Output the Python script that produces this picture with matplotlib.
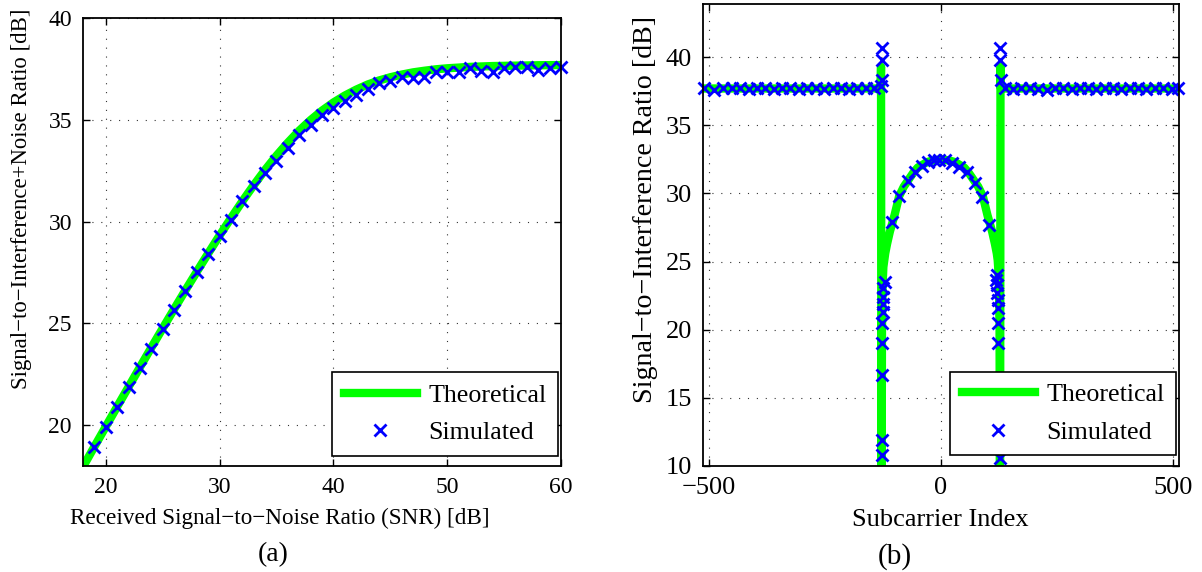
import matplotlib
matplotlib.use('Agg')
import matplotlib.pyplot as plt

plt.rcParams['font.family'] = ['Liberation Serif', 'DejaVu Serif']
plt.rcParams['font.size'] = 18

# (a) SINR vs received SNR
snr_theo = [18, 19, 20, 21, 22, 23, 24, 25, 26, 27, 28, 29, 30, 31, 32, 33, 34, 35, 36, 37, 38, 39,
            40, 41, 42, 43, 44, 45, 46, 47, 48, 49, 50, 52, 54, 56, 58, 60]
sinr_theo = [17.96, 18.95, 19.93, 20.91, 21.88, 22.85, 23.81, 24.76, 25.70, 26.63, 27.54, 28.44,
             29.32, 30.17, 31.00, 31.79, 32.54, 33.24, 33.88, 34.47, 34.99, 35.45, 35.85, 36.19,
             36.48, 36.73, 36.93, 37.09, 37.22, 37.33, 37.41, 37.48, 37.53, 37.60, 37.64, 37.66,
             37.68, 37.69]
snr_sim = [19, 20, 21, 22, 23, 24, 25, 26, 27, 28, 29, 30, 31, 32, 33, 34, 35, 36, 37, 38, 39, 40,
           41, 42, 43, 44, 45, 46, 47, 48, 49, 50, 51, 52, 53, 54, 55, 56, 57, 58, 59, 60]
sinr_sim = [18.94, 19.92, 20.90, 21.88, 22.80, 23.76, 24.74, 25.67, 26.60, 27.55, 28.40, 29.30,
            30.10, 31.00, 31.75, 32.40, 33.00, 33.60, 34.25, 34.75, 35.24, 35.60, 35.90, 36.20,
            36.50, 36.80, 36.90, 37.10, 37.05, 37.10, 37.33, 37.35, 37.35, 37.56, 37.40, 37.35,
            37.56, 37.60, 37.60, 37.45, 37.56, 37.60]

# (b) SIR per subcarrier
k_theo = [-512, -130, -129, -128, -127, -126, -125, -124, -122, -120, -116, -110, -100, -90, -80,
          -70, -60, -50, -40, -30, -20, -10, 0, 10, 20, 30, 40, 50, 60, 70, 80, 90, 100, 110, 116,
          120, 122, 123, 124, 125, 126, 127, 128, 129, 511]
sir_theo = [37.7, 37.7, 39.3, 3.0, 20.0, 22.5, 23.8, 24.6, 25.1, 25.6, 26.3, 27.2, 28.4, 29.8, 30.5,
            31.0, 31.5, 31.9, 32.1, 32.3, 32.4, 32.45, 32.5, 32.45, 32.4, 32.3, 32.1, 31.9, 31.5,
            31.0, 30.5, 29.8, 28.4, 27.2, 26.3, 25.6, 25.1, 24.6, 23.8, 22.5, 20.0, 3.0, 39.3,
            37.7, 37.7]
k_sim = [-510, -489, -470, -450, -432, -414, -396, -378, -360, -342, -324, -306, -288, -269, -251,
         -233, -216, -198, -180, -162, -144,
         -129, -128, -128, -128,
         -121, -124, -125, -125, -125, -126, -126, -126, -127, -127,
         -106, -90, -72, -56, -41, -27, -16, -4, 9, 24, 39, 55, 73, 89, 103,
         120, 119, 121, 121, 122, 122, 123, 123, 127,
         127, 127, 128,
         137, 155, 173, 191, 209, 227, 245, 263, 281, 299, 316, 334, 352, 370, 388, 406, 424, 442,
         460, 478, 496, 510]
sir_sim = [37.70, 37.60, 37.70, 37.75, 37.70, 37.65, 37.70, 37.70, 37.65, 37.70, 37.70, 37.65,
           37.70, 37.70, 37.65, 37.70, 37.70, 37.65, 37.70, 37.70, 37.75,
           37.9, 38.3, 39.8, 40.7,
           23.5, 23.05, 22.4, 21.9, 21.3, 20.5, 19.0, 16.7, 11.9, 10.8,
           27.9, 29.8, 30.9, 31.6, 32.0, 32.3, 32.45, 32.45, 32.45, 32.25, 31.95, 31.55, 30.75,
           29.75, 27.7,
           24.0, 23.65, 23.3, 22.7, 22.2, 21.6, 20.5, 19.0, 10.6,
           40.7, 39.8, 38.3,
           37.70, 37.65, 37.70, 37.70, 37.65, 37.60, 37.70, 37.70, 37.65, 37.70, 37.70, 37.65,
           37.70, 37.70, 37.65, 37.70, 37.70, 37.65, 37.70, 37.70, 37.65, 37.70]

green = '#00ff00'
blue = '#0000ff'
grid_style = dict(color='0.2', linestyle=(0, (1, 7)), linewidth=0.8)

fig = plt.figure(figsize=(12.02, 5.72), dpi=100)
ax1 = fig.add_axes([83 / 1202, 1 - 466 / 572, 478 / 1202, 448 / 572])
ax2 = fig.add_axes([703 / 1202, 1 - 466 / 572, 476 / 1202, 462 / 572])

ax1.plot(snr_theo, sinr_theo, color=green, linewidth=6, label='Theoretical')
ax1.plot(snr_sim, sinr_sim, linestyle='none', marker='x', color=blue, markersize=8,
         markeredgewidth=2, label='Simulated', clip_on=False)
ax1.set_xlim(18, 60)
ax1.set_ylim(18, 40)
ax1.set_xticks([20, 30, 40, 50, 60])
ax1.set_yticks([20, 25, 30, 35, 40])
ax1.set_xlabel('Received Signal\u2212to\u2212Noise Ratio (SNR) [dB]', fontsize=16.7)
ax1.set_ylabel('Signal\u2212to\u2212Interference+Noise Ratio [dB]', fontsize=16.4)
ax1.xaxis.set_label_coords((280 - 83) / 478, (466 - 518) / 448)
ax1.yaxis.set_label_coords((22 - 83) / 478, (466 - 199) / 448)
ax1.tick_params(labelsize=17)

ax2.plot(k_theo, sir_theo, color=green, linewidth=6, label='Theoretical')
ax2.plot(k_sim, sir_sim, linestyle='none', marker='x', color=blue, markersize=8,
         markeredgewidth=2, label='Simulated', clip_on=False)
ax2.set_xlim(-512, 512)
ax2.set_ylim(10, 43.9)
ax2.set_xticks([-500, 0, 500])
ax2.set_yticks([10, 15, 20, 25, 30, 35, 40])
ax2.set_xlabel('Subcarrier Index', fontsize=19)
ax2.set_ylabel('Signal\u2212to\u2212Interference Ratio [dB]', fontsize=20.2)
ax2.xaxis.set_label_coords((940 - 703) / 476, (466 - 520) / 462)
ax2.yaxis.set_label_coords((645 - 703) / 476, (466 - 209) / 462)
ax2.tick_params(labelsize=19)

for ax in (ax1, ax2):
    ax.xaxis.label.set_va('center')
    ax.yaxis.label.set_va('center')
    ax.grid(True, **grid_style)
    ax.tick_params(direction='in', top=True, right=True, length=5, width=1, pad=8)
    for s in ax.spines.values():
        s.set_linewidth(1.3)
    leg = ax.legend(loc='lower right', bbox_to_anchor=(0.994, 0.023), borderaxespad=0,
                    fancybox=False, edgecolor='black', framealpha=1, fontsize=18.7,
                    handlelength=2.8, handletextpad=0.45, labelspacing=0.54, borderpad=0.45)
    leg.get_frame().set_linewidth(1.2)

fig.text(273 / 1202, 1 - 555 / 572, '(a)', ha='center', va='center', fontsize=20)
fig.text(895 / 1202, 1 - 557 / 572, '(b)', ha='center', va='center', fontsize=21)

fig.savefig('out.png', dpi=100)
